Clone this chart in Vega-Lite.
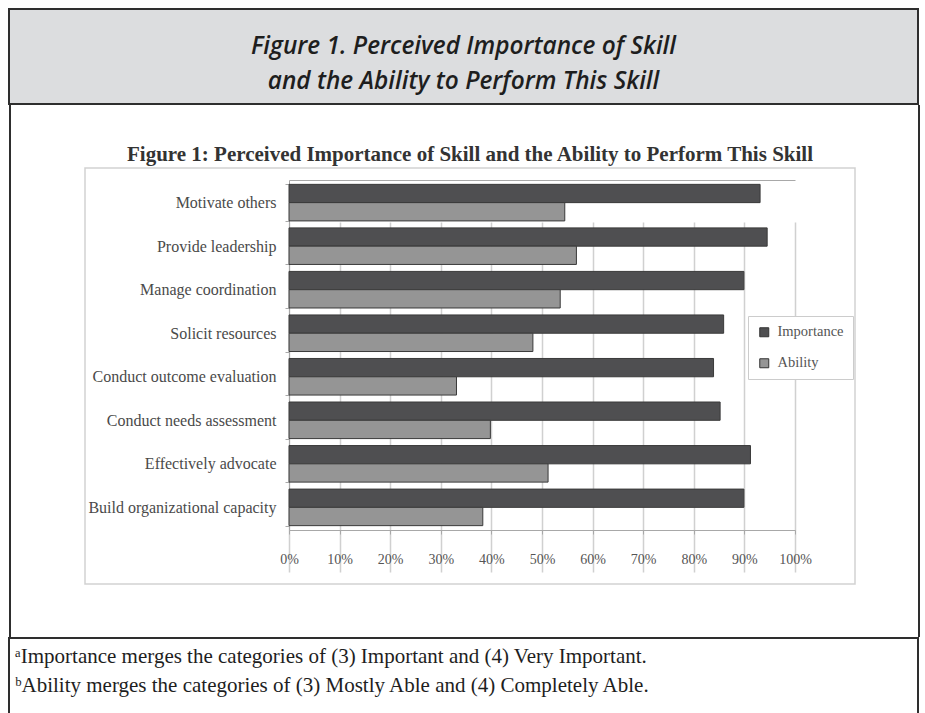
{
  "$schema": "https://vega.github.io/schema/vega-lite/v6.json",
  "background": "white",
  "padding": {"left": 8, "top": 8, "right": 0, "bottom": 0},
  "datasets": {
    "header": [
      {"row": 1, "line": "Figure 1. Perceived Importance of Skill"},
      {"row": 2, "line": "and the Ability to Perform This Skill"}
    ],
    "charttitle": [
      {"t": "Figure 1:  Perceived Importance of Skill and the Ability to Perform This Skill"}
    ],
    "skills": [
      {"skill": "Motivate others", "measure": "Importance", "value": 0.931},
      {"skill": "Motivate others", "measure": "Ability", "value": 0.545},
      {"skill": "Provide leadership", "measure": "Importance", "value": 0.945},
      {"skill": "Provide leadership", "measure": "Ability", "value": 0.568},
      {"skill": "Manage coordination", "measure": "Importance", "value": 0.899},
      {"skill": "Manage coordination", "measure": "Ability", "value": 0.536},
      {"skill": "Solicit resources", "measure": "Importance", "value": 0.859},
      {"skill": "Solicit resources", "measure": "Ability", "value": 0.482},
      {"skill": "Conduct outcome evaluation", "measure": "Importance", "value": 0.839},
      {"skill": "Conduct outcome evaluation", "measure": "Ability", "value": 0.331},
      {"skill": "Conduct needs assessment", "measure": "Importance", "value": 0.852},
      {"skill": "Conduct needs assessment", "measure": "Ability", "value": 0.398},
      {"skill": "Effectively advocate", "measure": "Importance", "value": 0.912},
      {"skill": "Effectively advocate", "measure": "Ability", "value": 0.512},
      {"skill": "Build organizational capacity", "measure": "Importance", "value": 0.899},
      {"skill": "Build organizational capacity", "measure": "Ability", "value": 0.383}
    ]
  },
  "vconcat": [
    {
      "width": 909,
      "height": 95,
      "view": {"fill": "#dcdddf", "stroke": "#2e2e2e", "strokeWidth": 2},
      "data": {"name": "header"},
      "mark": {"type": "text", "font": "Open Sans", "fontStyle": "italic", "fontWeight": 600, "fontSize": 24.4, "color": "#1e1e1e", "dy": 8},
      "encoding": {
        "text": {"field": "line"},
        "y": {"field": "row", "type": "ordinal", "axis": null, "scale": {"type": "point", "padding": 0.857}}
      }
    },
    {
      "hconcat": [
        {
          "width": 2,
          "height": 532,
          "view": {"fill": "#2e2e2e", "stroke": null},
          "data": {"values": []},
          "mark": "point",
          "encoding": {}
        },
        {
          "hconcat": [
            {
              "vconcat": [
                {
                  "width": 770,
                  "height": 63,
                  "view": {"fill": null, "stroke": null},
                  "data": {"name": "charttitle"},
                  "mark": {"type": "text", "font": "Liberation Serif", "fontSize": 21, "fontWeight": "bold", "color": "#333333", "dy": 18.5},
                  "encoding": {"text": {"field": "t"}}
                },
                {
                  "width": 770,
                  "height": 416,
                  "view": {"fill": "white", "stroke": "#d2d2d2", "strokeWidth": 1.5},
                  "data": {"name": "skills"},
                  "layer": [
                    {
                      "mark": {"type": "bar", "stroke": "#3a3a3a", "strokeWidth": 1},
                      "encoding": {
                        "y": {
                          "field": "skill",
                          "type": "nominal",
                          "sort": ["Motivate others", "Provide leadership", "Manage coordination", "Solicit resources", "Conduct outcome evaluation", "Conduct needs assessment", "Effectively advocate", "Build organizational capacity"],
                          "scale": {"range": [12, 362], "paddingInner": 0.16, "paddingOuter": 0.1},
                          "axis": {
                            "orient": "left",
                            "offset": -204,
                            "title": null,
                            "domainColor": "#a8a8a8",
                            "tickColor": "#a8a8a8",
                            "tickSize": 4,
                            "tickBand": "extent",
                            "labelFont": "Liberation Serif",
                            "labelFontSize": 16,
                            "labelColor": "#4a4a4a",
                            "labelPadding": 9,
                            "labelLimit": 300,
                            "grid": false
                          }
                        },
                        "yOffset": {"field": "measure", "sort": ["Importance", "Ability"], "scale": {"paddingInner": 0, "paddingOuter": 0}},
                        "x": {
                          "field": "value",
                          "type": "quantitative",
                          "scale": {"domain": [0, 1], "range": [204, 710]},
                          "axis": {
                            "orient": "bottom",
                            "offset": -54,
                            "title": null,
                            "format": ".0%",
                            "values": [0, 0.1, 0.2, 0.3, 0.4, 0.5, 0.6, 0.7, 0.8, 0.9, 1],
                            "labelFlush": false,
                            "grid": true,
                            "gridColor": "#d0d0d0",
                            "gridWidth": 1.5,
                            "domainColor": "#a8a8a8",
                            "tickColor": "#a8a8a8",
                            "tickSize": 4,
                            "labelFont": "Liberation Serif",
                            "labelFontSize": 14,
                            "labelColor": "#555555",
                            "labelPadding": 18
                          }
                        },
                        "color": {
                          "field": "measure",
                          "type": "nominal",
                          "sort": ["Importance", "Ability"],
                          "scale": {"range": ["#4f4f51", "#959595"]},
                          "legend": {
                            "orient": "none",
                            "legendX": 739,
                            "legendY": 307,
                            "title": null,
                            "direction": "vertical",
                            "fillColor": "white",
                            "strokeColor": "#cccccc",
                            "padding": 9,
                            "symbolType": "square",
                            "symbolSize": 81,
                            "symbolStrokeColor": "#333333",
                            "symbolStrokeWidth": 1,
                            "labelFont": "Liberation Serif",
                            "labelFontSize": 14.5,
                            "labelColor": "#555555",
                            "labelOffset": 6,
                            "rowPadding": 16
                          }
                        }
                      }
                    },
                    {
                      "mark": {"type": "rule", "opacity": 0},
                      "encoding": {
                        "x": {
                          "field": "value",
                          "type": "quantitative",
                          "axis": {"orient": "top", "offset": -12, "title": null, "labels": false, "ticks": false, "grid": false, "domainColor": "#a8a8a8"}
                        }
                      }
                    }
                  ],
                  "resolve": {"axis": {"x": "independent"}}
                }
              ],
              "spacing": 0,
              "bounds": "flush"
            },
            {
              "width": 2,
              "height": 532,
              "view": {"fill": "#2e2e2e", "stroke": null},
              "data": {"values": []},
              "mark": "point",
              "encoding": {}
            }
          ],
          "spacing": 62
        }
      ],
      "spacing": 73
    },
    {
      "width": 909,
      "height": 90,
      "view": {"fill": "white", "stroke": "#2e2e2e", "strokeWidth": 2},
      "title": {
        "text": ["ᵃImportance merges the categories of (3) Important and (4) Very Important.", "ᵇAbility merges the categories of (3) Mostly Able and (4) Completely Able."],
        "orient": "top",
        "anchor": "start",
        "font": "Liberation Serif",
        "fontSize": 21,
        "fontWeight": "normal",
        "color": "#1e1e1e",
        "lineHeight": 29,
        "offset": -58,
        "dx": 6
      },
      "data": {"values": []},
      "mark": "point",
      "encoding": {}
    }
  ],
  "spacing": 0
}
